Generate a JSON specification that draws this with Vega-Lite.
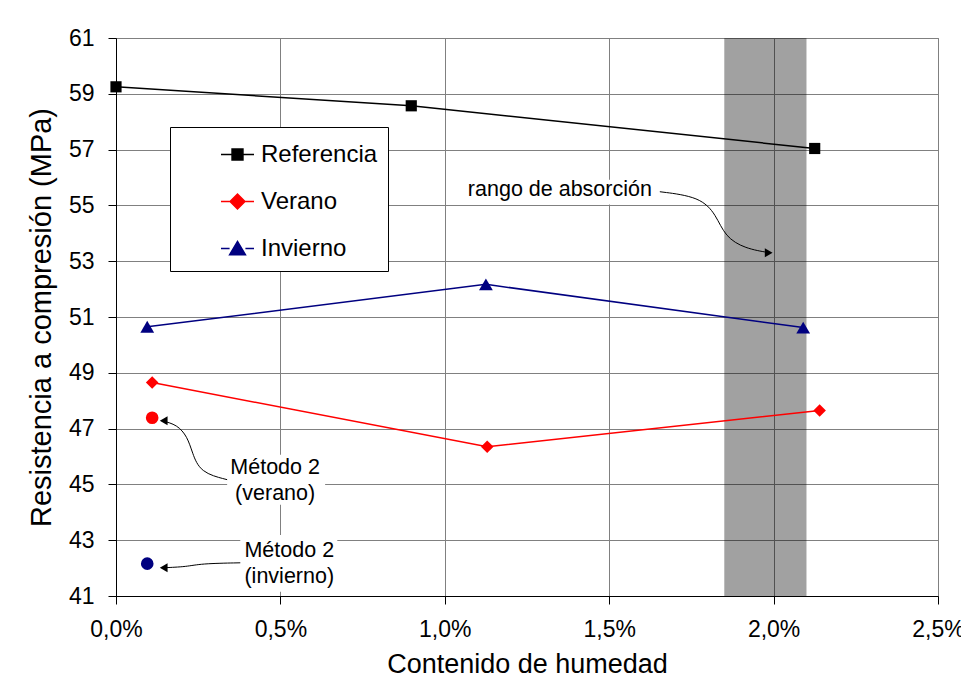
{
  "$schema": "https://vega.github.io/schema/vega-lite/v6.json",
  "width": 822,
  "height": 558,
  "autosize": {"type": "none"},
  "padding": {"left": 116, "top": 38, "right": 23, "bottom": 95},
  "background": "#ffffff",
  "config": {
    "font": "Liberation Sans",
    "view": {"stroke": "#808080", "strokeWidth": 1},
    "axis": {"gridColor": "#808080", "gridOpacity": 1, "gridWidth": 1, "domainColor": "#000000", "tickColor": "#000000", "labelColor": "#000000", "titleColor": "#000000", "labelFont": "Liberation Sans", "titleFont": "Liberation Sans", "titleFontWeight": "normal", "labelFontSize": 23, "tickSize": 8, "labelFlush": false, "labelOverlap": false}
  },
  "datasets": {
    "series": [
      {"serie": "Referencia", "humedad": 0.0, "resistencia": 59.25},
      {"serie": "Referencia", "humedad": 0.00898, "resistencia": 58.57},
      {"serie": "Referencia", "humedad": 0.02125, "resistencia": 57.04},
      {"serie": "Verano", "humedad": 0.0011, "resistencia": 48.65},
      {"serie": "Verano", "humedad": 0.01129, "resistencia": 46.35},
      {"serie": "Verano", "humedad": 0.0214, "resistencia": 47.65},
      {"serie": "Invierno", "humedad": 0.00095, "resistencia": 50.65},
      {"serie": "Invierno", "humedad": 0.01125, "resistencia": 52.17},
      {"serie": "Invierno", "humedad": 0.0209, "resistencia": 50.62}
    ],
    "metodo2": [
      {"serie": "Verano", "humedad": 0.0011, "resistencia": 47.39},
      {"serie": "Invierno", "humedad": 0.00095, "resistencia": 42.16}
    ],
    "band": [
      {"x1": 0.0185, "x2": 0.021, "y1": 41, "y2": 61}
    ],
    "boxes": [
      {"x1": 0.01071, "x2": 0.0163, "y1": 55.03, "y2": 55.92},
      {"x1": 0.00338, "x2": 0.00636, "y1": 44.27, "y2": 46.06},
      {"x1": 0.00378, "x2": 0.00673, "y1": 41.15, "y2": 43.19}
    ],
    "arrows": [
      {"arrow": "rango", "ord": 1, "humedad": 0.01654, "resistencia": 55.49},
      {"arrow": "rango", "ord": 2, "humedad": 0.01776, "resistencia": 55.31},
      {"arrow": "rango", "ord": 3, "humedad": 0.01825, "resistencia": 54.67},
      {"arrow": "rango", "ord": 4, "humedad": 0.01852, "resistencia": 53.88},
      {"arrow": "rango", "ord": 5, "humedad": 0.01913, "resistencia": 53.45},
      {"arrow": "rango", "ord": 6, "humedad": 0.0199, "resistencia": 53.3},
      {"arrow": "verano", "ord": 1, "humedad": 0.00338, "resistencia": 45.17},
      {"arrow": "verano", "ord": 2, "humedad": 0.00256, "resistencia": 45.42},
      {"arrow": "verano", "ord": 3, "humedad": 0.00232, "resistencia": 46.14},
      {"arrow": "verano", "ord": 4, "humedad": 0.00217, "resistencia": 46.71},
      {"arrow": "verano", "ord": 5, "humedad": 0.00186, "resistencia": 47.14},
      {"arrow": "verano", "ord": 6, "humedad": 0.0014, "resistencia": 47.28},
      {"arrow": "invierno", "ord": 1, "humedad": 0.00378, "resistencia": 42.19},
      {"arrow": "invierno", "ord": 2, "humedad": 0.00256, "resistencia": 42.16},
      {"arrow": "invierno", "ord": 3, "humedad": 0.00217, "resistencia": 42.05},
      {"arrow": "invierno", "ord": 4, "humedad": 0.0014, "resistencia": 42.01}
    ],
    "heads": [
      {"arrow": "rango", "humedad": 0.01985, "resistencia": 53.3},
      {"arrow": "verano", "humedad": 0.00145, "resistencia": 47.28},
      {"arrow": "invierno", "humedad": 0.00145, "resistencia": 42.01}
    ],
    "labels": [
      {"texto": "rango de absorción", "humedad": 0.0135, "resistencia": 55.55},
      {"texto": "Método 2\n(verano)", "humedad": 0.00484, "resistencia": 45.6},
      {"texto": "Método 2\n(invierno)", "humedad": 0.00527, "resistencia": 42.6}
    ]
  },
  "resolve": {"scale": {"shape": "independent", "color": "independent", "fill": "independent", "stroke": "independent", "size": "independent"}},
  "layer": [
    {
      "data": {"name": "band"},
      "mark": {"type": "rect", "color": "#000000", "opacity": 0.37},
      "encoding": {
        "x": {"field": "x1", "type": "quantitative", "scale": {"domain": [0, 0.025], "nice": false, "zero": false},
          "axis": {"values": [0, 0.005, 0.01, 0.015, 0.02, 0.025], "labelExpr": "replace(format(datum.value, '.1%'), '.', ',')", "title": "Contenido de humedad", "titleFontSize": 27, "labelPadding": 14, "titlePadding": 10, "tickSize": 8}},
        "x2": {"field": "x2"},
        "y": {"field": "y1", "type": "quantitative", "scale": {"domain": [41, 61], "nice": false, "zero": false},
          "axis": {"values": [41, 43, 45, 47, 49, 51, 53, 55, 57, 59, 61], "title": "Resistencia a compresión (MPa)", "titleFontSize": 29, "labelPadding": 14, "titlePadding": 12, "tickSize": 8}},
        "y2": {"field": "y2"}
      }
    },
    {
      "data": {"name": "boxes"},
      "mark": {"type": "rect", "color": "#ffffff"},
      "encoding": {
        "x": {"field": "x1", "type": "quantitative"},
        "x2": {"field": "x2"},
        "y": {"field": "y1", "type": "quantitative"},
        "y2": {"field": "y2"}
      }
    },
    {
      "data": {"name": "series"},
      "mark": {"type": "line", "strokeWidth": 1.5},
      "encoding": {
        "x": {"field": "humedad", "type": "quantitative"},
        "y": {"field": "resistencia", "type": "quantitative"},
        "color": {"field": "serie", "type": "nominal", "scale": {"domain": ["Referencia", "Verano", "Invierno"], "range": ["#000000", "#ff0000", "#000080"]}, "legend": null}
      }
    },
    {
      "data": {"name": "series"},
      "mark": {"type": "point", "filled": true, "opacity": 1},
      "encoding": {
        "x": {"field": "humedad", "type": "quantitative"},
        "y": {"field": "resistencia", "type": "quantitative"},
        "color": {"field": "serie", "type": "nominal", "scale": {"domain": ["Referencia", "Verano", "Invierno"], "range": ["#000000", "#ff0000", "#000080"]}, "legend": null},
        "shape": {"field": "serie", "type": "nominal", "scale": {"domain": ["Referencia", "Verano", "Invierno"], "range": ["square", "diamond", "triangle-up"]}, "legend": null},
        "size": {"field": "serie", "type": "nominal", "scale": {"domain": ["Referencia", "Verano", "Invierno"], "range": [125, 190, 190]}, "legend": null}
      }
    },
    {
      "data": {"name": "series"},
      "transform": [{"filter": "datum.serie === 'ninguna'"}],
      "mark": {"type": "point", "strokeWidth": 1.5, "opacity": 1},
      "encoding": {
        "x": {"field": "humedad", "type": "quantitative"},
        "y": {"field": "resistencia", "type": "quantitative"},
        "fill": {"field": "serie", "type": "nominal", "scale": {"domain": ["Referencia", "Verano", "Invierno"], "range": ["#000000", "#ff0000", "#000080"]},
          "legend": {"title": null, "orient": "none", "legendX": 54, "legendY": 89, "fillColor": "#ffffff", "strokeColor": "#000000", "padding": 10, "rowPadding": 17, "symbolOffset": 40, "labelOffset": 6, "labelFontSize": 24, "labelFont": "Liberation Sans", "labelColor": "#000000", "symbolSize": 1089, "symbolStrokeWidth": 1.5, "symbolOpacity": 1}},
        "stroke": {"field": "serie", "type": "nominal", "scale": {"domain": ["Referencia", "Verano", "Invierno"], "range": ["#000000", "#ff0000", "#000080"]},
          "legend": {"title": null, "orient": "none", "legendX": 54, "legendY": 89, "fillColor": "#ffffff", "strokeColor": "#000000", "padding": 10, "rowPadding": 17, "symbolOffset": 40, "labelOffset": 6, "labelFontSize": 24, "labelFont": "Liberation Sans", "labelColor": "#000000", "symbolSize": 1089, "symbolStrokeWidth": 1.5, "symbolOpacity": 1}},
        "shape": {"field": "serie", "type": "nominal", "scale": {"domain": ["Referencia", "Verano", "Invierno"], "range": ["M-1,0H-0.33M0.33,0H1M-0.33,-0.33H0.33V0.33H-0.33Z", "M-1,0H-0.45M0.45,0H1M-0.45,0L0,-0.45L0.45,0L0,0.45Z", "M-1,0H-0.48M0.48,0H1M-0.48,0.38L0,-0.42L0.48,0.38Z"]},
          "legend": {"title": null, "orient": "none", "legendX": 54, "legendY": 89, "fillColor": "#ffffff", "strokeColor": "#000000", "padding": 10, "rowPadding": 17, "symbolOffset": 40, "labelOffset": 6, "labelFontSize": 24, "labelFont": "Liberation Sans", "labelColor": "#000000", "symbolSize": 1089, "symbolStrokeWidth": 1.5, "symbolOpacity": 1}}
      }
    },
    {
      "data": {"name": "metodo2"},
      "mark": {"type": "circle", "size": 160, "opacity": 1},
      "encoding": {
        "x": {"field": "humedad", "type": "quantitative"},
        "y": {"field": "resistencia", "type": "quantitative"},
        "color": {"field": "serie", "type": "nominal", "scale": {"domain": ["Verano", "Invierno"], "range": ["#ff0000", "#000080"]}, "legend": null}
      }
    },
    {
      "data": {"name": "arrows"},
      "mark": {"type": "line", "color": "#000000", "strokeWidth": 1, "interpolate": "basis"},
      "encoding": {
        "x": {"field": "humedad", "type": "quantitative"},
        "y": {"field": "resistencia", "type": "quantitative"},
        "detail": {"field": "arrow", "type": "nominal"},
        "order": {"field": "ord", "type": "quantitative"}
      }
    },
    {
      "data": {"name": "heads"},
      "mark": {"type": "point", "filled": true, "color": "#000000", "opacity": 1, "size": 80},
      "encoding": {
        "x": {"field": "humedad", "type": "quantitative"},
        "y": {"field": "resistencia", "type": "quantitative"},
        "shape": {"field": "arrow", "type": "nominal", "scale": {"domain": ["rango", "verano", "invierno"], "range": ["triangle-right", "triangle-left", "triangle-left"]}, "legend": null}
      }
    },
    {
      "data": {"name": "labels"},
      "mark": {"type": "text", "font": "Liberation Sans", "fontSize": 21.5, "color": "#000000", "lineBreak": "\n", "lineHeight": 26, "align": "center", "baseline": "middle"},
      "encoding": {
        "x": {"field": "humedad", "type": "quantitative"},
        "y": {"field": "resistencia", "type": "quantitative"},
        "text": {"field": "texto", "type": "nominal"}
      }
    }
  ]
}
